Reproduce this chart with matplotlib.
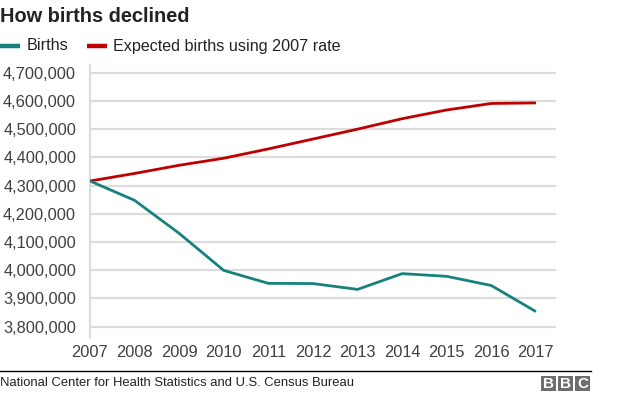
import matplotlib
matplotlib.use('Agg')
import matplotlib.pyplot as plt
from matplotlib.patches import Rectangle
from matplotlib.lines import Line2D
from matplotlib.ticker import FuncFormatter

# Data
years = [2007, 2008, 2009, 2010, 2011, 2012, 2013, 2014, 2015, 2016, 2017]
births = [4316233, 4247694, 4130665, 3999386, 3953590, 3952841,
          3932181, 3988076, 3978497, 3945875, 3853472]
expected = [4316233, 4343000, 4372000, 4397000, 4430000, 4465000,
            4500000, 4537000, 4568000, 4591000, 4593000]
y_ticks = [3800000, 3900000, 4000000, 4100000, 4200000,
           4300000, 4400000, 4500000, 4600000, 4700000]

teal = '#17827d'
red = '#c00000'
grid_col = '#dcdcdc'
text_col = '#404040'

plt.rcParams['font.family'] = ['Liberation Sans', 'DejaVu Sans']

W, H = 624, 395
fig = plt.figure(figsize=(W / 100, H / 100), dpi=100)

# plot area in pixels: left 90, right 556, top 65, bottom 337
ax = fig.add_axes([90 / W, 1 - 337 / H, (556 - 90) / W, (337 - 65) / H])
ax.plot(years, expected, color=red, lw=2, solid_capstyle='butt', zorder=3)
ax.plot(years, births, color=teal, lw=2, solid_capstyle='butt', zorder=4)

ax.set_xlim(2007, 2017.45)
ax.set_ylim(3763500, 4727300)
ax.set_xticks(years)
ax.set_yticks(y_ticks)
ax.yaxis.set_major_formatter(FuncFormatter(lambda v, p: f'{int(v):,}'))
ax.tick_params(length=0, labelsize=11.8, colors=text_col, pad=10)
ax.tick_params(axis='x', pad=6)
ax.grid(axis='y', color=grid_col, lw=1.6)
ax.set_axisbelow(True)
for side in ['top', 'right', 'bottom']:
    ax.spines[side].set_visible(False)
ax.spines['left'].set_color(grid_col)
ax.spines['left'].set_linewidth(1.6)

# title
fig.text(0, 1 - 17 / H, 'How births declined', fontsize=14.4, fontweight='bold',
         color='#222222', va='center', ha='left')

# legend
fig.add_artist(Line2D([0, 20 / W], [1 - 46 / H] * 2, color=teal, lw=3.2,
                      transform=fig.transFigure, solid_capstyle='butt'))
fig.text(27 / W, 1 - 46 / H, 'Births', fontsize=11.6, color='#222222',
         va='center', ha='left')
fig.add_artist(Line2D([87 / W, 107 / W], [1 - 46 / H] * 2, color=red, lw=3.2,
                      transform=fig.transFigure, solid_capstyle='butt'))
fig.text(113 / W, 1 - 46 / H, 'Expected births using 2007 rate', fontsize=11.6,
         color='#222222', va='center', ha='left')

# footer
fig.add_artist(Line2D([0, 591 / W], [1 - 371 / H] * 2, color='black', lw=1,
                      transform=fig.transFigure))
fig.text(0, 1 - 383 / H, 'National Center for Health Statistics and U.S. Census Bureau',
         fontsize=9.4, color='#222222', va='center', ha='left')
for i, letter in enumerate('BBC'):
    x0 = 541 + i * 17
    fig.add_artist(Rectangle((x0 / W, 1 - 391 / H), 15 / W, 15 / H,
                             transform=fig.transFigure, color='#6e6e6e', lw=0))
    fig.text((x0 + 7.5) / W, 1 - 383.5 / H, letter, fontsize=11, fontweight='bold',
             color='white', ha='center', va='center')

fig.savefig('out.png', dpi=100)
